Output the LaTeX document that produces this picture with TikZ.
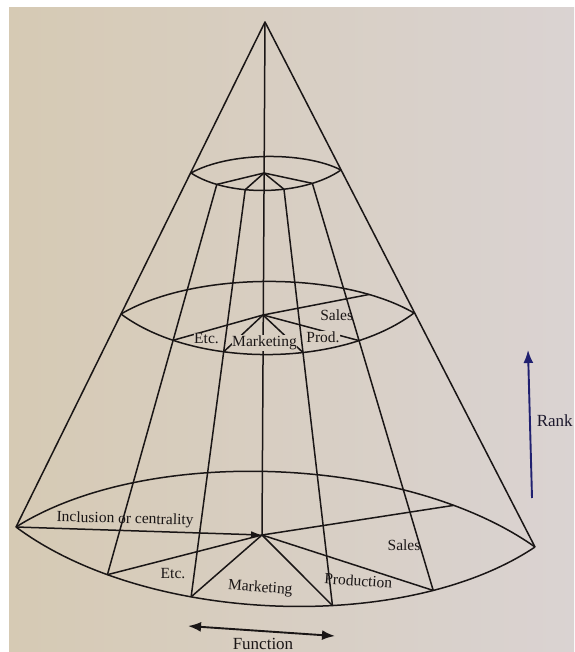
\documentclass[tikz,border=0pt]{standalone}
\usepackage{fontspec}
\setmainfont{Liberation Serif}
\usetikzlibrary{arrows.meta,intersections}
\definecolor{ink}{RGB}{26,22,22}
\definecolor{pageleft}{RGB}{214,202,180}
\definecolor{pageright}{RGB}{218,211,210}
\definecolor{pen}{RGB}{32,32,112}
\colorlet{labbg}{pageleft!55!pageright}

\begin{document}
\begin{tikzpicture}[x=1pt, y=-1pt,
    cone/.style={draw=ink, line width=1.5pt, line join=round},
    lab/.style={font=\fontsize{15.5}{17}\selectfont, text=ink, inner sep=0.6pt, anchor=base},
    labfill/.style={lab, fill=labbg},
    axis/.style={line width=1.9pt},
    ]
    \useasboundingbox (0,0) rectangle (574,652);
    \fill[white] (0,0) rectangle (574,652);
    \shade[left color=pageleft, right color=pageright] (9,8) rectangle (574,652);

    % cone outline and axis
    \coordinate (apex) at (265,22);
    \coordinate (L) at (16,527);
    \coordinate (R) at (535,547);
    \coordinate (TL) at (191,173);
    \coordinate (TR) at (341,170);
    \coordinate (ML) at (121,314);
    \coordinate (MR) at (414,313);
    \coordinate (hub1) at (264,173);
    \coordinate (hub2) at (263,315);
    \coordinate (hub3) at (262,535);

    \draw[cone] (L) -- (apex) -- (R);
    \draw[cone] (apex) -- (hub3);

    % top ring
    \draw[cone] (TL) .. controls (228.5,152) and (303.5,151) .. (TR);
    \draw[cone] (TL) .. controls (228.5,197.5) and (303.5,196) .. (TR)
        coordinate[pos=.196] (t1) coordinate[pos=.376] (t2)
        coordinate[pos=.607] (t4) coordinate[pos=.785] (t5);

    % middle ring
    \draw[cone] (ML) .. controls (194,271) and (341,270.5) .. (MR)
        coordinate[pos=.823] (mb);
    \draw[cone, name path=midfront] (ML) .. controls (194,368.5) and (341,368) .. (MR);

    % bottom ring
    \draw[cone] (L) .. controls (146,445) and (405,455) .. (R)
        coordinate[pos=.82] (bb);
    \draw[cone] (L) .. controls (146,624) and (405,634) .. (R)
        coordinate[pos=.2] (b1) coordinate[pos=.354] (b2)
        coordinate[pos=.598] (b4) coordinate[pos=.78] (b5);

    % generators
    \foreach \g in {1,2,4,5}{
        \draw[cone, name path=gen\g] (t\g) -- (b\g);
        \path[name intersections={of=midfront and gen\g, by=m\g}];
    }

    % spokes
    \foreach \g in {1,2,4,5}{
        \draw[cone] (hub1) -- (t\g);
        \draw[cone] (hub2) -- (m\g);
        \draw[cone] (hub3) -- (b\g);
    }
    \draw[cone] (hub2) -- (mb);
    \draw[cone] (hub3) -- (bb);
    \draw[cone, -{Latex[length=11pt,width=7pt]}] (L) -- (hub3);

    % labels
    \node[labfill] (etc2) at (206.5,343.3) {Etc.};
    \node[labfill] (mkt2) at (264.5,346.7) {Marketing};
    \node[labfill] (prod2) at (323,342.3) {Prod.};
    \node[lab] (sales2) at (336.7,320.7) {Sales};
    \node[lab, rotate=-1.4] (incl) at (125,523.3) {Inclusion or centrality};
    \node[lab] (etc3) at (173,578.3) {Etc.};
    \node[lab, rotate=-4] (mkt3) at (260,592) {Marketing};
    \node[lab, rotate=-4] (prod3) at (358,586) {Production};
    \node[lab] (sales3) at (404,550.7) {Sales};

    % function and rank arrows
    \coordinate (fnL) at (188,626);
    \coordinate (fnR) at (335,636);
    \draw[axis, draw=ink, {Latex[length=13pt,width=10pt]}-{Latex[length=13pt,width=10pt]}] (fnL) -- (fnR);
    \node[lab, font=\fontsize{17}{19}\selectfont] (function) at (263,649) {Function};

    \coordinate (rkB) at (532,498);
    \coordinate (rkT) at (528,350);
    \draw[axis, draw=pen, -{Latex[length=13pt,width=10pt]}] (rkB) -- (rkT);
    \node[lab, anchor=west, font=\fontsize{17}{19}\selectfont, text=ink!75!pen] (rank) at (536,421) {Rank};
\end{tikzpicture}
\end{document}
